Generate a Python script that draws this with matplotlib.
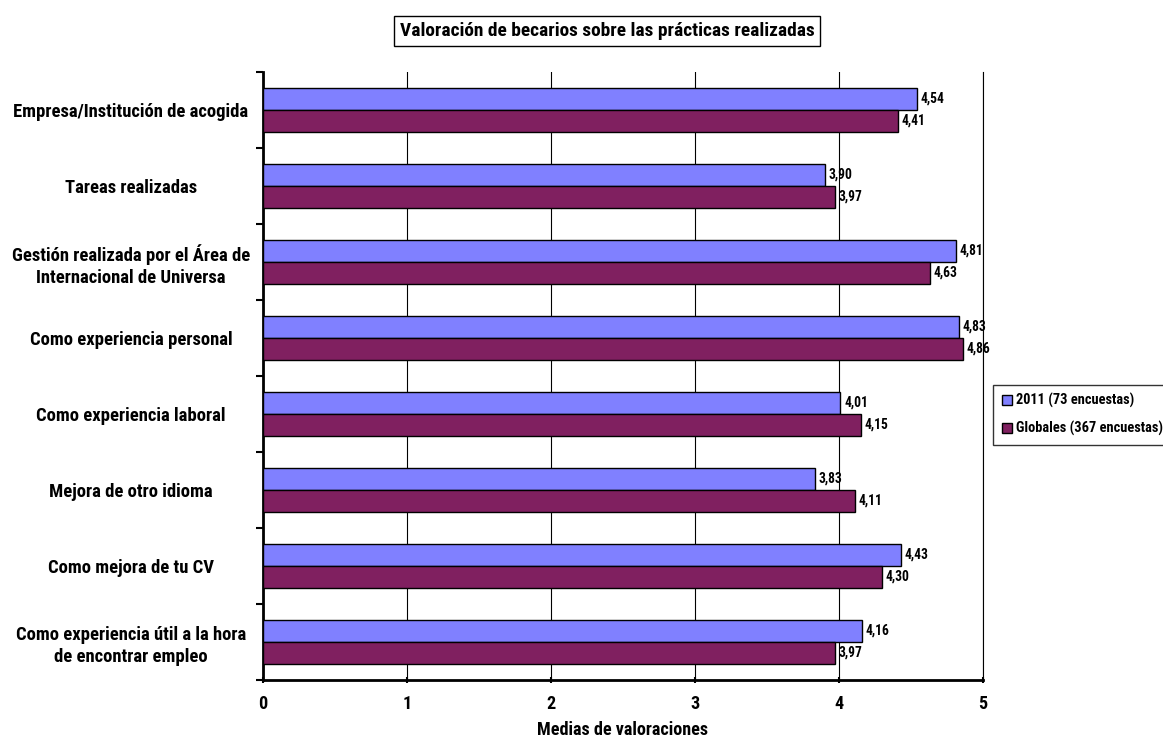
import matplotlib.pyplot as plt
import numpy as np
from matplotlib import font_manager

# datos
categorias = ["Empresa/Institución de acogida",
              "Tareas realizadas",
              "Gestión realizada por el Área de\nInternacional de Universa",
              "Como experiencia personal",
              "Como experiencia laboral",
              "Mejora de otro idioma",
              "Como mejora de tu CV",
              "Como experiencia útil a la hora\nde encontrar empleo"]
valores_2011 = [4.54, 3.90, 4.81, 4.83, 4.01, 3.83, 4.43, 4.16]
valores_globales = [4.41, 3.97, 4.63, 4.86, 4.15, 4.11, 4.30, 3.97]
series = ["2011 (73 encuestas)", "Globales (367 encuestas)"]
titulo = "Valoración de becarios sobre las prácticas realizadas"
eje_x = "Medias de valoraciones"

# fuente estrecha tipo Arial Narrow
nombres = {f.name for f in font_manager.fontManager.ttflist}
fuente = "Liberation Sans"
for candidata in ["Liberation Sans Narrow", "Arial Narrow", "Roboto Condensed",
                  "Archivo Narrow", "PT Sans Narrow"]:
    if candidata in nombres:
        fuente = candidata
        break
peso = 600
plt.rcParams['font.family'] = [fuente, 'DejaVu Sans']
plt.rcParams['font.weight'] = peso

fig = plt.figure(figsize=(11.63, 7.40), dpi=100)
renderer = fig.canvas.get_renderer()

def ajustar(texto, ancho_px):
    # tamaño de letra para que el texto ocupe el ancho de la referencia
    t = fig.text(0, 0, texto, fontsize=10, fontweight=peso)
    w = t.get_window_extent(renderer).width
    t.remove()
    return 10 * ancho_px / w

fs_cat = ajustar(categorias[0], 237)
fs_tit = ajustar(titulo, 414)
fs_val = ajustar("4,54", 24)
fs_leg = ajustar(series[1], 147)
fs_eje = ajustar(eje_x, 172)

ax = fig.add_axes([263/1163, 1-680/740, 720/1163, 608/740])

n = len(categorias)
y = np.arange(n)
h = 0.29
b1 = ax.barh(y - h/2, valores_2011, height=h, color="#8080FF", edgecolor="black", lw=1, label=series[0], zorder=3)
b2 = ax.barh(y + h/2, valores_globales, height=h, color="#802060", edgecolor="black", lw=1, label=series[1], zorder=3)

for barras, vals in [(b1, valores_2011), (b2, valores_globales)]:
    for r, v in zip(barras, vals):
        ax.text(v + 0.025, r.get_y() + r.get_height()/2, f"{v:.2f}".replace(".", ","),
                va="center", ha="left", fontsize=fs_val, fontweight=peso, zorder=4)

ax.set_xlim(0, 5)
ax.set_ylim(n - 0.5, -0.5)
ax.set_xticks(range(6))
ax.set_xticklabels([str(i) for i in range(6)], fontsize=fs_eje, fontweight=peso)
ax.set_yticks(y)
ax.set_yticklabels(categorias, fontsize=fs_cat, fontweight=peso, ha="center", linespacing=1.25)
ax.tick_params(axis="y", length=0, pad=95)
ax.tick_params(axis="x", length=5, width=1.5, direction="inout", pad=8)
ax.set_yticks(np.arange(-0.5, n), minor=True)
ax.tick_params(axis="y", which="minor", length=5, width=1.5, direction="out")
ax.grid(axis="x", color="black", lw=0.8, zorder=0)

ax.spines["top"].set_visible(False)
ax.spines["right"].set_linewidth(0.8)
ax.spines["left"].set_linewidth(2)
ax.spines["bottom"].set_linewidth(2)

ax.set_xlabel(eje_x, fontsize=fs_eje, fontweight=peso, labelpad=6)

fig.text(607/1163, 1-31/740, titulo,
         ha="center", va="center", fontsize=fs_tit, fontweight=peso,
         bbox=dict(boxstyle="square,pad=0.3", fc="white", ec="black", lw=1))

ax.legend(loc="center left", bbox_to_anchor=(1.014, 0.436), prop={"size": fs_leg, "weight": peso},
          frameon=True, fancybox=False, edgecolor="black", handlelength=0.7, handleheight=0.7,
          handletextpad=0.3, borderpad=0.6, labelspacing=0.9, borderaxespad=0)

fig.savefig("out.png", dpi=100)
